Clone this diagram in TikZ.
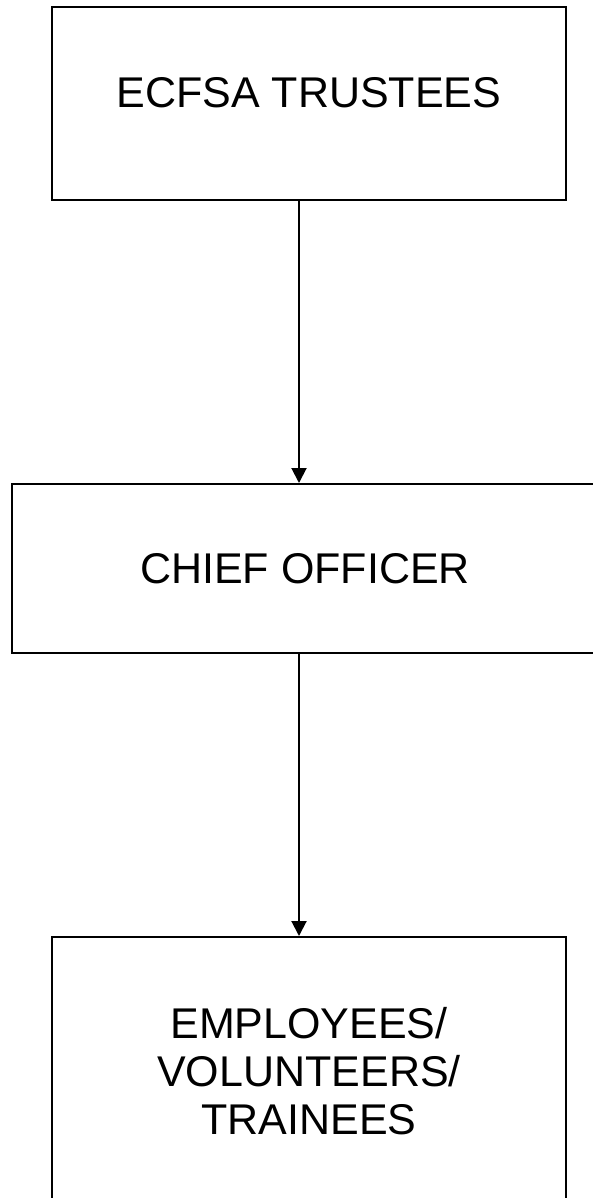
\documentclass[tikz,border=0pt]{standalone}
\usepackage{fontspec}
\setmainfont{Liberation Sans}
\usepackage{tikz}
\usetikzlibrary{arrows.meta, positioning}

\begin{document}
\begin{tikzpicture}[x=1pt,y=1pt]
        \useasboundingbox (0,0) rectangle (592,-1198);
        \begin{scope}[every node/.style={draw,line width=2pt,rectangle,align=center,
            font=\fontsize{43}{48}\selectfont}]
          \node[minimum width=514pt,minimum height=193pt,text depth=22pt] (trustees) at (309,-103.5) {ECFSA TRUSTEES};
          \node[minimum width=586pt,minimum height=169pt] (officer) at (305,-568.5) {CHIEF OFFICER};
          \node[minimum width=514pt,minimum height=268pt] (staff) at (309,-1071) {EMPLOYEES/\\VOLUNTEERS/\\TRAINEES};
        \end{scope}
        \begin{scope}[every edge/.style={draw=black,line width=2pt,-{Triangle[length=15pt,width=15pt]}}]
          \path ([xshift=-10pt]trustees.south) edge ([xshift=-6pt]officer.north);
          \path ([xshift=-6pt]officer.south) edge ([xshift=-10pt]staff.north);
        \end{scope}
      \end{tikzpicture}
\end{document}
